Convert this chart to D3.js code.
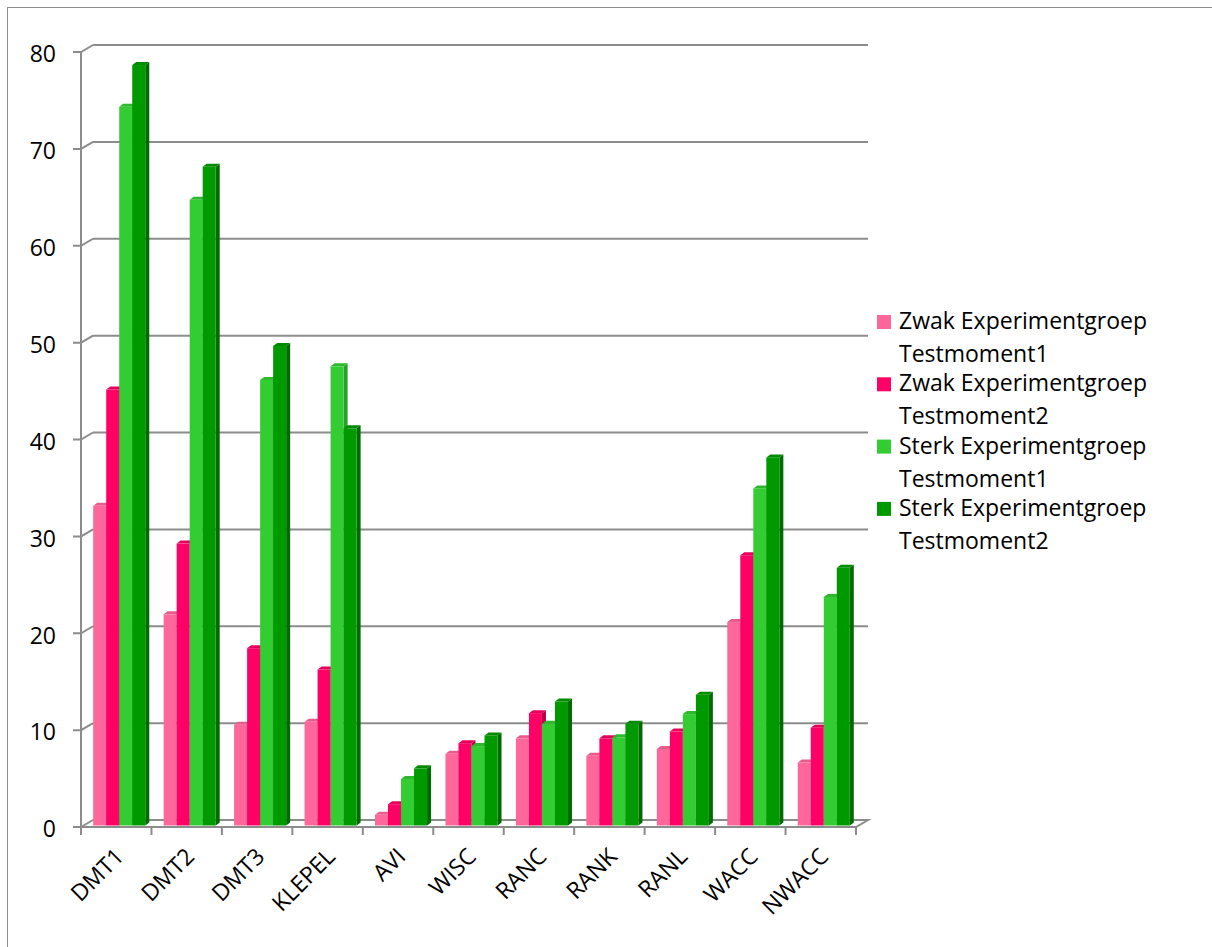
<!DOCTYPE html>
<html><head><meta charset="utf-8">
<script src="https://cdn.jsdelivr.net/npm/d3@7"></script>
<style>body{margin:0;background:#fff}svg{display:block}text{font-family:"Open Sans",sans-serif;fill:#000}</style>
</head><body><svg id="c" width="1212" height="947"></svg>
<script>
const categories = ["DMT1","DMT2","DMT3","KLEPEL","AVI","WISC","RANC","RANK","RANL","WACC","NWACC"];
const seriesNames = [["Zwak Experimentgroep","Testmoment1"],["Zwak Experimentgroep","Testmoment2"],["Sterk Experimentgroep","Testmoment1"],["Sterk Experimentgroep","Testmoment2"]];
const zwak1  = [33.0, 21.8, 10.4, 10.7, 1.1, 7.4, 9.0, 7.2, 7.9, 21.0, 6.5];
const zwak2  = [45.0, 29.1, 18.3, 16.1, 2.2, 8.5, 11.6, 9.0, 9.7, 27.9, 10.1];
const sterk1 = [74.2, 64.6, 46.0, 47.4, 4.8, 8.2, 10.5, 9.1, 11.5, 34.8, 23.6];
const sterk2 = [78.5, 68.0, 49.5, 41.0, 5.9, 9.3, 12.8, 10.5, 13.5, 38.0, 26.6];
const yTicks = [0,10,20,30,40,50,60,70,80];

const values = [zwak1, zwak2, sterk1, sterk2];
const colors = ["#ff6699","#ff0066","#33cc33","#009900"];
const tops   = ["#e85c8a","#e6005c","#2eb82e","#008a00"];
const sides  = ["#c74f78","#b8004a","#26a326","#006b00"];

const svg = d3.select("#c");
svg.append("rect").attr("x",7.5).attr("y",7.5).attr("width",1210).attr("height",945)
  .attr("fill","none").attr("stroke","#8c8c8c").attr("stroke-width",1);

const x0 = 81, x1 = 856;
const DX = 12, DY = -7;
const y = d3.scaleLinear().domain([0,80]).range([827,52]);
const xb = d3.scaleBand().domain(categories).range([x0,x1]).padding(0);
const xs = d3.scaleBand().domain(d3.range(4)).range([9.2, xb.bandwidth()-9.2]).padding(0);

const grid = svg.append("g");
const gc = "#8c8c8c";
yTicks.forEach(t => {
  const yy = y(t);
  if (t > 0) {
    grid.append("path").attr("d", `M${x0+DX},${yy+DY}L${x1+DX},${yy+DY}`)
      .attr("stroke", gc).attr("stroke-width", 2).attr("fill","none");
  }
  grid.append("path").attr("d", `M${x0-8},${yy}L${x0},${yy}L${x0+DX},${yy+DY}`)
    .attr("stroke", gc).attr("stroke-width", 2).attr("fill","none");
});
grid.append("path").attr("d", `M${x0+DX},${y(0)+DY}L${x1+DX},${y(0)+DY}L${x1},${y(0)}L${x0},${y(0)}`)
  .attr("stroke", gc).attr("stroke-width", 2).attr("fill","none");
grid.append("path").attr("d", `M${x0},${y(80)}L${x0},${y(0)+8}`)
  .attr("stroke", gc).attr("stroke-width", 2).attr("fill","none");
categories.concat(["_end"]).forEach((c,i) => {
  const xx = x0 + i*xb.bandwidth();
  grid.append("path").attr("d", `M${xx},${y(0)}L${xx},${y(0)+8}`)
    .attr("stroke", gc).attr("stroke-width", 2);
});

svg.append("g").selectAll("text").data(yTicks).join("text")
  .attr("x", 56).attr("y", d => y(d) + 2).attr("dy","0.36em").attr("text-anchor","end")
  .attr("font-size", 23).text(d => d);

const bz = 3, bzy = -1.5;
const bdx = 4, bdy = -3;
const bars = svg.append("g");
categories.forEach((c, ci) => {
  values.forEach((arr, si) => {
    const v = arr[ci];
    const xl = xb(c) + xs(si) + bz;
    const w = xs.bandwidth();
    const yt = y(v) + bzy, yb = y(0) + bzy;
    const g = bars.append("g");
    g.append("path").attr("d", `M${xl+w},${yt}L${xl+w+bdx},${yt+bdy}L${xl+w+bdx},${yb+bdy}L${xl+w},${yb}Z`).attr("fill", sides[si]);
    g.append("path").attr("d", `M${xl},${yt}L${xl+bdx},${yt+bdy}L${xl+w+bdx},${yt+bdy}L${xl+w},${yt}Z`).attr("fill", tops[si]);
    g.append("rect").attr("x", xl).attr("y", yt).attr("width", w).attr("height", yb-yt).attr("fill", colors[si]);
  });
});

svg.append("g").selectAll("text").data(categories).join("text")
  .attr("transform", d => `translate(${xb(d)+xb.bandwidth()/2+9},${858}) rotate(-45)`)
  .attr("text-anchor","end").attr("font-size", 23).text(d => d);

const lg = svg.append("g");
seriesNames.forEach((nm, i) => {
  const by = 329 + i*62.3;
  lg.append("rect").attr("x", 877).attr("y", by-14).attr("width", 14).attr("height", 14).attr("fill", colors[i]);
  lg.append("text").attr("x", 899).attr("y", by).attr("font-size", 23).text(nm[0]);
  lg.append("text").attr("x", 899).attr("y", by+33).attr("font-size", 23).text(nm[1]);
});
</script></body></html>
